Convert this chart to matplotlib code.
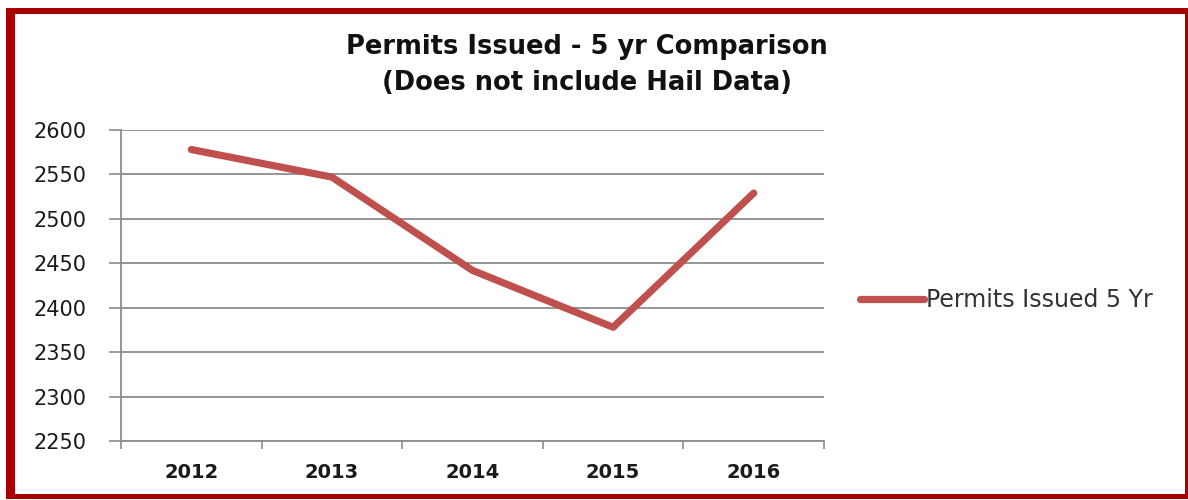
import matplotlib
matplotlib.use("Agg")
import matplotlib.pyplot as plt
from matplotlib.patches import Rectangle

years = ["2012", "2013", "2014", "2015", "2016"]
permits = [2578, 2547, 2442, 2378, 2529]
y_ticks = [2250, 2300, 2350, 2400, 2450, 2500, 2550, 2600]
title_text = "Permits Issued - 5 yr Comparison\n(Does not include Hail Data)"
series_name = "Permits Issued 5 Yr"

W, H = 1188, 500
fig = plt.figure(figsize=(W / 100, H / 100), dpi=100)
fig.patch.set_facecolor("white")

def px_rect(x0, y0, x1, y1, color):
    fig.add_artist(Rectangle((x0 / W, 1 - y1 / H), (x1 - x0) / W, (y1 - y0) / H,
                             transform=fig.transFigure, facecolor=color,
                             edgecolor="none", zorder=10))

ax = fig.add_axes([121 / W, 1 - 441 / H, (824 - 121) / W, (441 - 130) / H])
x = list(range(len(years)))
line_color = "#C0504D"
grid_color = "#8C8C8C"
ax.plot(x, permits, color=line_color, linewidth=5.2, solid_capstyle="round",
        solid_joinstyle="round", label=series_name, zorder=3)

ax.set_xlim(-0.5, len(years) - 0.5)
ax.set_ylim(y_ticks[0], y_ticks[-1])
ax.set_yticks(y_ticks)
ax.set_yticklabels([str(v) for v in y_ticks], fontsize=15, color="#1a1a1a")
ax.set_xticks([i - 0.5 for i in range(len(years) + 1)])
ax.set_xticklabels([])
ax.set_xticks(x, minor=True)
ax.set_xticklabels(years, minor=True, fontsize=14, fontweight="bold", color="#1a1a1a")
ax.tick_params(axis="x", which="major", length=6, width=1.2, color=grid_color, direction="out")
ax.tick_params(axis="x", which="minor", length=0, pad=16)
ax.tick_params(axis="y", length=9, width=1.2, color=grid_color, pad=16)
ax.grid(axis="y", color=grid_color, linewidth=1.3)
ax.set_axisbelow(True)
for s in ["top", "right"]:
    ax.spines[s].set_visible(False)
for s in ["left", "bottom"]:
    ax.spines[s].set_color(grid_color)
    ax.spines[s].set_linewidth(1.3)

fig.text(0.494, 1 - 65 / H, title_text, ha="center", va="center", fontsize=18.5,
         fontweight="bold", linespacing=1.5, color="#111111")

leg = fig.legend(loc="center left", bbox_to_anchor=(860 / W, 1 - 300 / H),
                 frameon=False, fontsize=17, handlelength=2.7, handletextpad=0.1,
                 borderaxespad=0, borderpad=0)
for t in leg.get_texts():
    t.set_color("#333333")

border = "#A80000"
px_rect(6, 8, 15, 499, border)
px_rect(6, 8, 1188, 14, border)
px_rect(6, 494, 1188, 499, border)
px_rect(1185, 8, 1188, 499, border)

fig.savefig("out.png", dpi=100, facecolor="white")
